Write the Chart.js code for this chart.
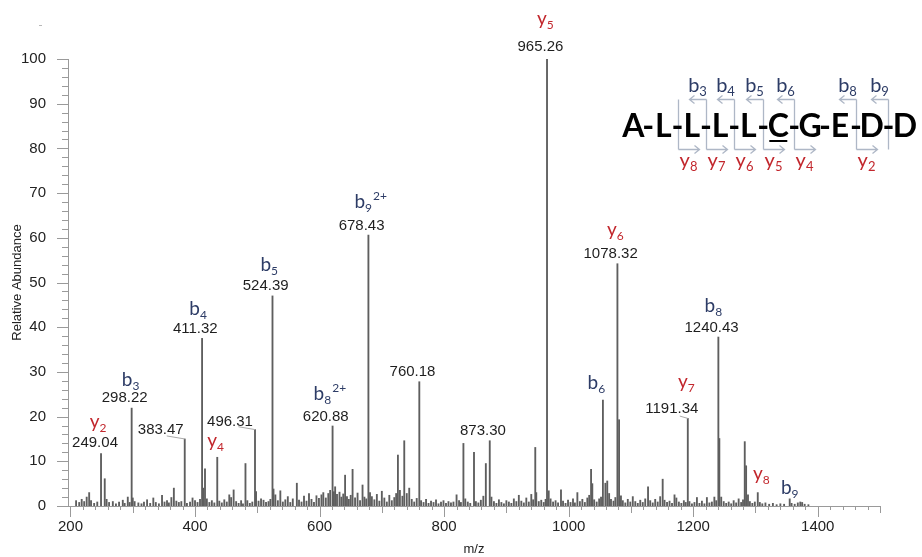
<!DOCTYPE html>
<html>
<head>
<meta charset="utf-8">
<script src="https://cdn.jsdelivr.net/npm/chart.js@4.4.1/dist/chart.umd.min.js"></script>
<style>
  html, body { margin: 0; padding: 0; background: #fff; }
  #wrap { width: 922px; height: 557px; position: relative; }
</style>
</head>
<body>
<div id="wrap"><canvas id="spectrum"></canvas></div>
<script>
// MS/MS spectrum of ALLLLCGEDD, peaks as m/z and relative abundance
const peakMz = [
  209, 214, 218, 222, 226, 230, 233, 238, 243,
  249.04, 255, 258, 262, 268, 273, 278, 284, 287, 292, 295,
  298.22, 300, 303, 309, 314, 318, 323, 328, 333, 337, 342, 347, 351, 355, 358, 362, 366, 370, 374, 378,
  383.47, 387, 392, 396, 400, 404, 408,
  411.32, 413, 416, 419, 423, 427, 431,
  435.7, 439, 443, 447, 451, 455, 458, 462, 466, 470, 474, 477,
  481, 484, 488, 492,
  496.31, 498, 502, 506, 510, 514, 518, 521,
  524.39, 526, 529, 533, 537, 541, 545, 549, 553, 557,
  563.5, 567, 571, 575, 579, 583, 587, 591, 595, 599, 603, 606, 610, 614, 617,
  620.88, 623, 625, 628, 632, 635, 638, 641, 644, 647, 650, 653, 657, 661, 665, 669, 672, 675,
  678.43, 681, 684, 688, 692, 696, 700, 704, 708, 712, 716, 720, 723,
  725.8, 729, 733, 736, 740, 744, 748, 752, 756,
  760.18, 763, 767, 771, 775, 779, 783, 787, 791, 795, 799, 803, 807, 811, 815, 820, 824, 827,
  831, 834, 838, 842, 848, 851, 855, 859, 863, 867,
  873.30, 876, 880, 884, 888, 892, 896, 900, 904, 908, 912, 916, 920, 924, 928, 932, 936, 940, 943,
  946.4, 948, 952, 956, 960, 963,
  965.26, 968, 971, 975, 979, 983, 987.7, 991, 995, 999, 1003, 1007, 1010, 1014, 1018, 1022, 1026, 1030, 1033,
  1036, 1038, 1041, 1045, 1049, 1052,
  1055, 1059, 1062, 1065, 1068, 1072, 1075,
  1078.32, 1081, 1084, 1087, 1091, 1095, 1099, 1103, 1107, 1111, 1115, 1119, 1123,
  1127.5, 1131, 1135, 1139, 1143, 1147,
  1151, 1154, 1158, 1162, 1166, 1170, 1173, 1177, 1181, 1185, 1188,
  1191.34, 1194, 1198, 1202, 1206, 1210, 1214, 1218, 1222, 1226, 1230, 1234, 1237,
  1240.43, 1242, 1245, 1249, 1253, 1257, 1261, 1265, 1269, 1273, 1277, 1280,
  1282.8, 1285, 1288, 1291, 1295, 1299,
  1303.7, 1307, 1311, 1316, 1322, 1328, 1334, 1340, 1346,
  1355, 1358, 1363, 1368, 1372, 1375, 1379, 1385
];
const peakIntensity = [
  1.2, 0.8, 1.5, 1.0, 2.0, 3.0, 1.2, 0.6, 0.9,
  11.7, 6.1, 1.5, 0.8, 1.0, 0.5, 0.9, 1.3, 0.6, 2.0, 0.8,
  21.9, 1.8, 1.0, 0.7, 0.5, 0.9, 1.4, 0.6, 1.8, 0.8, 0.5, 2.4, 0.9, 1.2, 0.7, 1.9, 4.0, 1.1, 0.8, 1.0,
  15.0, 0.6, 0.9, 1.8, 1.2, 0.8, 1.5,
  37.5, 4.0, 8.3, 1.6, 0.8, 1.2, 0.7,
  10.9, 1.1, 0.7, 1.4, 0.9, 2.5, 1.9, 3.6, 1.0, 0.6, 1.2, 0.5,
  9.5, 1.2, 0.6, 0.9,
  17.1, 3.2, 1.1, 1.6, 1.3, 0.8, 1.0, 1.5,
  47.0, 3.8, 2.5, 1.2, 3.4, 0.9, 1.4, 2.1, 0.8, 1.6,
  5.1, 1.3, 0.9, 2.2, 1.1, 2.8, 1.5, 0.8, 2.3, 1.7, 2.5, 3.0, 1.8, 2.8, 3.5,
  17.9, 3.2, 4.3, 2.6, 3.1, 2.0, 2.7, 6.9, 2.1, 1.5, 2.4, 8.2, 1.8, 2.9, 1.2, 4.7, 2.0, 1.6,
  60.6, 3.0, 2.1, 1.4, 2.6, 1.1, 3.3, 1.8, 0.9, 2.4, 1.2, 1.9, 2.8,
  11.4, 3.5, 2.2, 14.6, 2.8, 4.0, 1.5, 0.9, 1.7,
  27.8, 1.2, 0.8, 1.5, 0.6, 1.1, 0.8, 1.4, 0.5, 0.9, 1.2, 0.6, 1.0, 0.7, 0.9, 2.5, 1.2, 0.8,
  14.0, 1.6, 0.9, 0.6, 12.0, 1.0, 0.7, 1.3, 2.2, 9.5,
  14.6, 2.0, 1.0, 0.6, 1.4, 0.8, 0.5, 1.2, 0.9, 0.6, 1.6, 1.0, 2.4, 1.1, 0.7, 1.8, 0.9, 2.6, 1.4,
  13.1, 3.0, 1.0, 1.3, 0.8, 1.5,
  100, 3.4, 1.6, 0.9, 1.2, 0.7, 3.6, 1.1, 0.6, 1.3, 0.8, 1.6, 0.7, 3.0, 1.0, 1.5, 0.8, 1.8, 2.4,
  8.2, 5.0, 1.4, 0.9, 1.6, 2.0,
  23.7, 5.1, 5.6, 2.8, 1.5, 1.1, 1.9,
  54.2, 19.3, 2.3, 1.2, 0.7, 1.5, 0.9, 2.1, 1.0, 0.6, 1.3, 0.8, 1.6,
  4.3, 1.2, 0.7, 1.5, 0.9, 2.1,
  6.0, 1.3, 0.8, 1.1, 0.6, 2.5, 1.8, 0.9, 0.6, 1.2, 0.8,
  19.6, 1.0, 0.5, 0.8, 1.9, 0.6, 1.1, 0.5, 1.9, 0.7, 0.9, 2.0, 1.2,
  37.8, 15.1, 2.0, 1.0, 0.6, 0.9, 0.5, 1.2, 0.7, 1.6, 0.8, 1.4,
  14.4, 9.0, 2.5, 1.0, 0.6, 0.9,
  3.0, 0.8, 0.5, 0.7, 0.4, 0.6, 0.3, 0.5, 0.4,
  1.6, 0.6, 0.4, 0.7, 0.9, 0.8, 0.4, 0.3
];

const xTickLabels = [200, 400, 600, 800, 1000, 1200, 1400];
const yTickLabels = [0, 10, 20, 30, 40, 50, 60, 70, 80, 90, 100];

// peaks annotated with their m/z
const mzLabels = [249.04, 298.22, 383.47, 411.32, 496.31, 524.39, 620.88, 678.43, 760.18, 873.30, 965.26, 1078.32, 1191.34, 1240.43];
// fragment ion assignments
const ionMz = [249.04, 298.22, 411.32, 435.7, 524.39, 620.88, 678.43, 965.26, 1055, 1078.32, 1191.34, 1240.43, 1303.7, 1355];
const ionNames = ['y2', 'b3', 'b4', 'y4', 'b5', 'b8 2+', 'b9 2+', 'y5', 'b6', 'y6', 'y7', 'b8', 'y8', 'b9'];

const sequence = ['A', 'L', 'L', 'L', 'L', 'C', 'G', 'E', 'D', 'D'];
const bIons = [3, 4, 5, 6, 8, 9];
const yIons = [8, 7, 6, 5, 4, 2];

const B_COLOR = '#2d3c66';
const Y_COLOR = '#c2272d';
const ION_FONT = 'Lato, "Open Sans", sans-serif';
const NUM_FONT = '15px "Liberation Sans", Arial, sans-serif';

// label placement (px): dx from peak, lift above peak top
const numLayout = {
  249.04: { dx: -6, lift: 10.7 },
  298.22: { dx: -7, lift: 10 },
  383.47: { dx: -24, lift: 8.6, leader: [-18, -3] },
  496.31: { dx: -25, lift: 8.2, leader: [-16.6, -2.8] },
  965.26: { dx: -6.6, lift: 12 },
  1191.34: { dx: -16, lift: 9.3, leader: [-8, -2.3] }
};
const ionLayout = {
  'y2': [-3, 25.7], 'b3': [-1, 22], 'b4': [-4, 23.6], 'y4': [-1.6, 10.3],
  'b5': [-3.3, 24.8], 'b8 2+': [-2.7, 26], 'b9 2+': [2.3, 27.3], 'y5': [-1.6, 34],
  'b6': [-6.5, 11.3], 'y6': [-2, 27.7], 'y7': [-1.4, 30.3], 'b8': [-5, 25],
  'y8': [3.5, 13], 'b9': [0, 5.3]
};

function intensityAt(mz) {
  return peakIntensity[peakMz.indexOf(mz)];
}

// letter + subscript (+ optional charge superscript)
function drawIon(ctx, name, cx, baseline, size) {
  const [ion, charge] = name.split(' ');
  const letter = ion[0];
  const sub = ion.slice(1);
  const small = Math.round(size * 0.64);
  ctx.font = size + 'px ' + ION_FONT;
  const wL = ctx.measureText(letter).width;
  ctx.font = small + 'px ' + ION_FONT;
  const wS = ctx.measureText(sub).width;
  const wC = charge ? ctx.measureText(charge).width + 1 : 0;
  let x = cx - (wL + wS + wC) / 2;
  ctx.fillStyle = letter === 'b' ? B_COLOR : Y_COLOR;
  ctx.textAlign = 'left';
  ctx.textBaseline = 'alphabetic';
  ctx.font = size + 'px ' + ION_FONT;
  ctx.fillText(letter, x, baseline);
  x += wL;
  ctx.font = small + 'px ' + ION_FONT;
  ctx.fillText(sub, x, baseline + size * 0.22);
  x += wS + 1;
  if (charge) ctx.fillText(charge, x, baseline - size * 0.42);
}

const peakLabels = {
  id: 'peakLabels',
  afterDatasetsDraw(chart) {
    const { ctx, scales: { x, y } } = chart;
    ctx.save();
    mzLabels.forEach((mz) => {
      const px = x.getPixelForValue(mz);
      const top = y.getPixelForValue(intensityAt(mz));
      const l = numLayout[mz] || { dx: -6.8, lift: 9.6 };
      ctx.font = NUM_FONT;
      ctx.fillStyle = '#1e1e1e';
      ctx.textAlign = 'center';
      ctx.textBaseline = 'middle';
      ctx.fillText(mz.toFixed(2), px + l.dx, top - l.lift);
      if (l.leader) {
        ctx.strokeStyle = '#a9a9a9';
        ctx.lineWidth = 1;
        ctx.beginPath();
        ctx.moveTo(px + l.leader[0], top + l.leader[1]);
        ctx.lineTo(px, top);
        ctx.stroke();
      }
    });
    ionMz.forEach((mz, i) => {
      const px = x.getPixelForValue(mz);
      const top = y.getPixelForValue(intensityAt(mz));
      const [dx, lift] = ionLayout[ionNames[i]];
      drawIon(ctx, ionNames[i], px + dx, top - lift, 19);
    });
    ctx.restore();
  }
};

// axis tick marks: long at labels, shorter in between
const axisTicks = {
  id: 'axisTicks',
  afterDraw(chart) {
    const { ctx, scales: { x, y }, chartArea } = chart;
    ctx.save();
    ctx.strokeStyle = '#9a9a9a';
    ctx.lineWidth = 1;
    ctx.beginPath();
    for (let v = 0; v <= 100; v += 2) {
      const py = Math.round(y.getPixelForValue(v)) + 0.5;
      const len = v % 10 === 0 ? 11 : 6;
      ctx.moveTo(chartArea.left - len, py);
      ctx.lineTo(chartArea.left, py);
    }
    for (let v = 200; v <= 1500; v += 20) {
      const px = Math.round(x.getPixelForValue(v)) + 0.5;
      const len = v % 200 === 0 ? 11 : (v % 100 === 0 ? 7 : 4);
      ctx.moveTo(px, chartArea.bottom);
      ctx.lineTo(px, chartArea.bottom + len);
    }
    ctx.stroke();
    // stray mark above the axis
    ctx.fillStyle = '#b8b8b8';
    ctx.fillRect(39, 25, 3, 1);
    ctx.restore();
  }
};

// peptide sequence with b / y cleavage brackets
const seqX = [633.3, 663.3, 691.7, 720, 748.3, 778.3, 810, 840, 871.7, 905];
const sequenceMap = {
  id: 'sequenceMap',
  afterDraw(chart) {
    const { ctx } = chart;
    const base = 137, topY = 99.5, botY = 149.5;
    ctx.save();
    const siteX = (k) => (seqX[k - 1] + seqX[k]) / 2;
    const sites = new Set([...bIons, ...yIons.map((n) => sequence.length - n)]);
    ctx.strokeStyle = '#aeb7c6';
    ctx.lineWidth = 1.3;
    sites.forEach((k) => {
      const sx = Math.round(siteX(k)) + 0.5;
      ctx.beginPath();
      ctx.moveTo(sx, topY);
      ctx.lineTo(sx, botY);
      ctx.stroke();
    });
    bIons.forEach((n) => {
      const sx = Math.round(siteX(n)) + 0.5;
      ctx.beginPath();
      ctx.moveTo(sx, topY);
      ctx.lineTo(sx - 17, topY);
      ctx.moveTo(sx - 12, topY - 4);
      ctx.lineTo(sx - 17, topY);
      ctx.lineTo(sx - 12, topY + 4);
      ctx.stroke();
      drawIon(ctx, 'b' + n, sx - 9, 92, 20);
    });
    yIons.forEach((n) => {
      const sx = Math.round(siteX(sequence.length - n)) + 0.5;
      ctx.beginPath();
      ctx.moveTo(sx, botY);
      ctx.lineTo(sx + 21, botY);
      ctx.moveTo(sx + 16, botY - 4);
      ctx.lineTo(sx + 21, botY);
      ctx.lineTo(sx + 16, botY + 4);
      ctx.stroke();
      drawIon(ctx, 'y' + n, sx + 10, 167, 20);
    });
    ctx.fillStyle = '#000';
    ctx.font = 'bold 32px Lato, "Open Sans", sans-serif';
    ctx.textAlign = 'center';
    ctx.textBaseline = 'alphabetic';
    sequence.forEach((aa, i) => {
      ctx.fillText(aa, seqX[i], base);
      if (i > 0) ctx.fillText('-', siteX(i), base);
    });
    // carbamidomethyl cysteine underline
    const ci = sequence.indexOf('C');
    ctx.fillRect(seqX[ci] - 9, base + 3, 18, 2);
    ctx.restore();
  }
};

const ctx = document.getElementById('spectrum');
new Chart(ctx, {
  type: 'bar',
  data: {
    datasets: [{
      data: peakMz.map((mz, i) => ({ x: mz, y: peakIntensity[i] })),
      backgroundColor: '#5e5e5e',
      barThickness: 1.2,
      borderWidth: 0
    }]
  },
  options: {
    responsive: true,
    maintainAspectRatio: false,
    animation: false,
    layout: { padding: { left: 0, right: 42, top: 59, bottom: 0 } },
    plugins: { legend: { display: false }, tooltip: { enabled: false } },
    scales: {
      x: {
        type: 'linear',
        min: 196,
        max: 1500,
        offset: false,
        grid: { display: false, drawTicks: false },
        border: { display: true, color: '#9a9a9a', width: 1 },
        afterBuildTicks: (s) => { s.ticks = xTickLabels.map((v) => ({ value: v })); },
        afterFit: (s) => { s.height = 51; },
        ticks: {
          padding: 12,
          maxRotation: 0,
          color: '#222',
          callback: (v) => String(v),
          font: { family: '"Liberation Sans", Arial, sans-serif', size: 15 }
        },
        title: {
          display: true,
          text: 'm/z',
          color: '#222',
          padding: { top: 0, bottom: 0 },
          font: { family: '"Liberation Sans", Arial, sans-serif', size: 13 }
        }
      },
      y: {
        min: 0,
        max: 100,
        grid: { display: false, drawTicks: false },
        border: { display: true, color: '#9a9a9a', width: 1 },
        afterBuildTicks: (s) => { s.ticks = yTickLabels.map((v) => ({ value: v })); },
        afterFit: (s) => { s.width = 68; },
        ticks: {
          padding: 22,
          color: '#222',
          callback: (v) => String(v),
          font: { family: '"Liberation Sans", Arial, sans-serif', size: 15 }
        },
        title: {
          display: true,
          text: 'Relative Abundance',
          color: '#222',
          padding: { top: 10, bottom: 0 },
          font: { family: '"Liberation Sans", Arial, sans-serif', size: 13 }
        }
      }
    }
  },
  plugins: [peakLabels, axisTicks, sequenceMap]
});
</script>
</body>
</html>
